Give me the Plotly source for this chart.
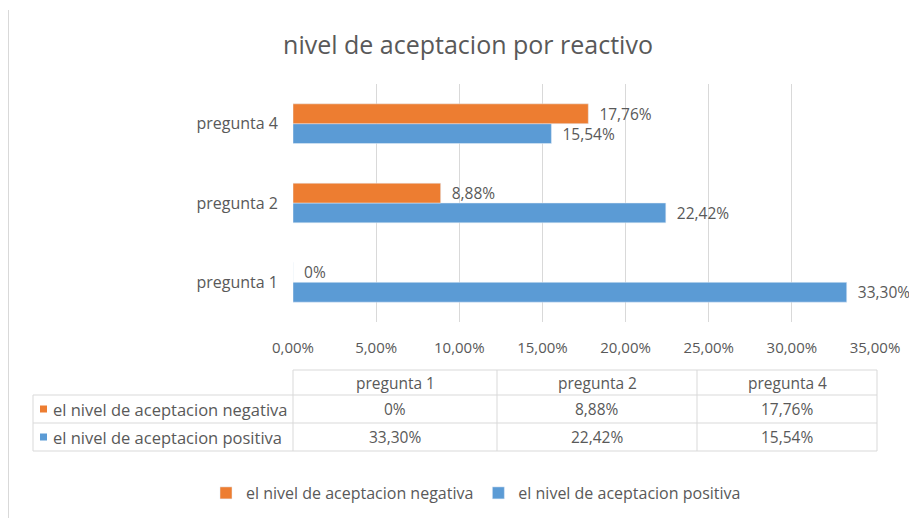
import plotly.graph_objects as go

categories = ["pregunta 1", "pregunta 2", "pregunta 4"]
negativa = [0.0, 0.0888, 0.1776]
positiva = [0.3330, 0.2242, 0.1554]
series_names = ["el nivel de aceptacion negativa", "el nivel de aceptacion positiva"]
title = "nivel de aceptacion por reactivo"

ORANGE = "#ED7D31"
BLUE = "#5B9BD5"
GRAY = "#595959"
LINE = "#D9D9D9"
FONT = "Open Sans, Lato, sans-serif"

def fmt(v):
    if v == 0:
        return "0%"
    return f"{v*100:.2f}".replace(".", ",") + "%"

def lab(v):
    return "\u00a0\u00a0" + fmt(v)

W, H = 917, 518
OFF = 8  # page body margin offset
# reference-pixel plot area
L, R, T, B = 293, 875, 84, 322

def px(x):
    return (x - L) / (R - L)

def py(y):
    return (B - y) / (B - T)

fig = go.Figure()
fig.add_trace(go.Bar(
    y=categories, x=positiva, orientation="h", name=series_names[1],
    marker_color=BLUE, text=[lab(v) for v in positiva], textposition="outside",
    constraintext="none",
    textfont=dict(color=GRAY, size=15.5, family=FONT), cliponaxis=False,
))
fig.add_trace(go.Bar(
    y=categories, x=negativa, orientation="h", name=series_names[0],
    marker_color=ORANGE, text=[lab(v) for v in negativa], textposition="outside",
    constraintext="none",
    textfont=dict(color=GRAY, size=15.5, family=FONT), cliponaxis=False,
))

shapes = []
def hline(x0, x1, y):
    shapes.append(dict(type="line", xref="paper", yref="paper", x0=px(x0), x1=px(x1),
                       y0=py(y), y1=py(y), line=dict(color=LINE, width=1)))
def vline(x, y0, y1):
    shapes.append(dict(type="line", xref="paper", yref="paper", x0=px(x), x1=px(x),
                       y0=py(y0), y1=py(y1), line=dict(color=LINE, width=1)))

# data table
row_y = [370, 395, 423, 451]
col_x = [293, 497, 697, 877]
TL = 33
hline(293, 877, row_y[0])
for yy in row_y[1:]:
    hline(TL, 877, yy)
vline(TL, row_y[1], row_y[3])
for xx in col_x:
    vline(xx, row_y[0], row_y[3])
# outer chart border (left)
vline(OFF + 0.5, 10, 530)

annotations = []
def text(x, y, s, anchor="center", size=15.5):
    annotations.append(dict(xref="paper", yref="paper", x=px(x), y=py(y), text=s,
                            showarrow=False, xanchor=anchor, yanchor="middle",
                            font=dict(color=GRAY, size=size, family=FONT)))

for i, c in enumerate(categories):
    cx = (col_x[i] + col_x[i + 1]) / 2
    text(cx, (row_y[0] + row_y[1]) / 2, c)
    text(cx, (row_y[1] + row_y[2]) / 2, fmt(negativa[i]))
    text(cx, (row_y[2] + row_y[3]) / 2, fmt(positiva[i]))

for j, (name, col) in enumerate([(series_names[0], ORANGE), (series_names[1], BLUE)]):
    yc = (row_y[1 + j] + row_y[2 + j]) / 2
    shapes.append(dict(type="rect", xref="paper", yref="paper",
                       x0=px(40), x1=px(47), y0=py(yc - 3.5), y1=py(yc + 3.5),
                       fillcolor=col, line=dict(width=0)))
    text(51, yc, name, anchor="left", size=16.5)

fig.update_layout(
    width=W, height=H,
    margin=dict(l=L - OFF, r=W - R + OFF, t=T - OFF, b=H - B + OFF, pad=0),
    paper_bgcolor="white", plot_bgcolor="white",
    separators=",.",
    barmode="group", bargap=0.5, bargroupgap=0,
    title=dict(text=title, x=(468 - OFF) / W, xanchor="center", y=1 - (45 - OFF) / H,
               yanchor="middle", font=dict(color=GRAY, size=25, family=FONT)),
    xaxis=dict(range=[0, 0.35], dtick=0.05, tickformat=".2%", showgrid=True, gridcolor=LINE,
               gridwidth=1, zeroline=False, showline=False, ticks="",
               tickfont=dict(color=GRAY, size=15, family=FONT), ticklabelstandoff=15),
    yaxis=dict(showgrid=False, zeroline=False, showline=False, ticks="",
               tickfont=dict(color=GRAY, size=16, family=FONT), ticklabelstandoff=14),
    showlegend=True,
    legend=dict(orientation="h", traceorder="reversed", x=px(476), xanchor="center",
                y=py(493), yanchor="middle", font=dict(color=GRAY, size=16, family=FONT),
                itemwidth=30),
    shapes=shapes, annotations=annotations,
    font=dict(family=FONT, color=GRAY),
)

fig.write_html("out.html")
